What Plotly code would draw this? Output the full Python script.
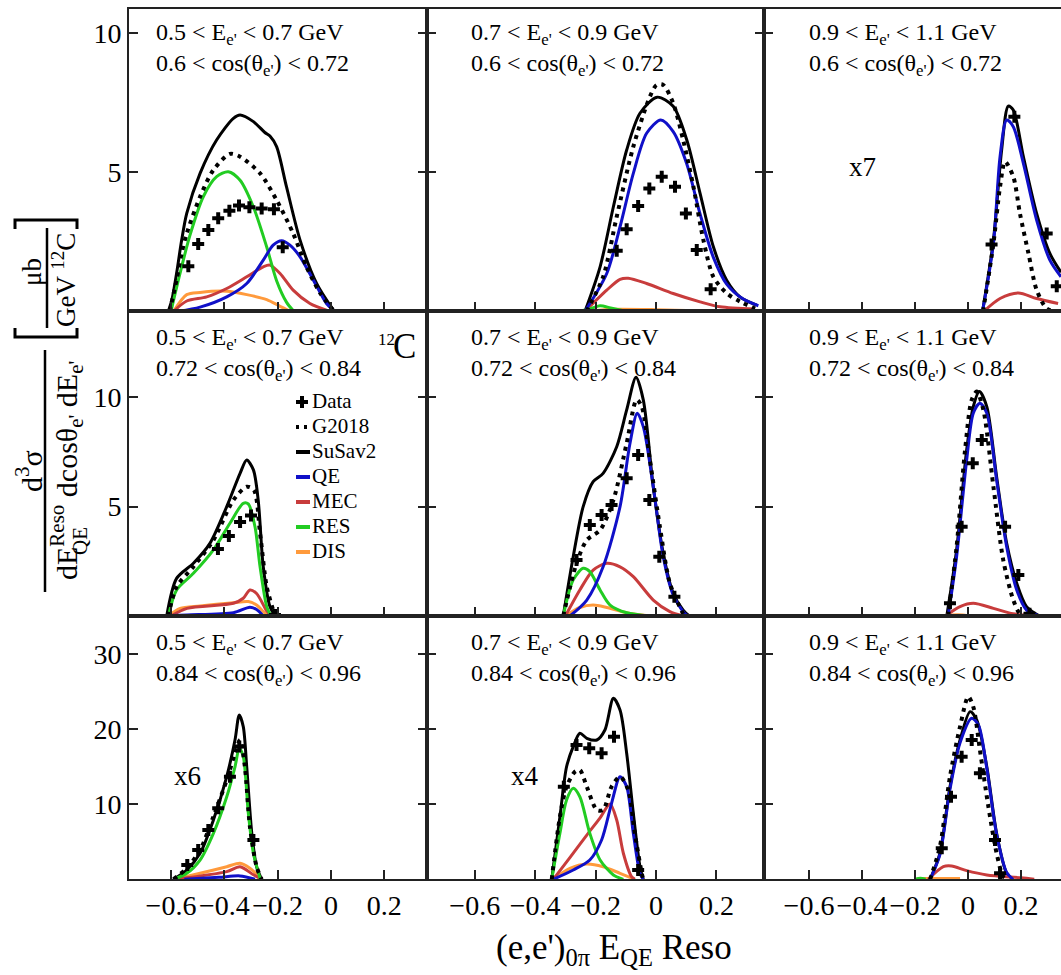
import plotly.graph_objects as go

W, H = 1061, 975

# ---------------------------------------------------------------------------
# Cross sections per panel, (E_QE reso, value) pairs.
# Panels: r = cos(theta) bin (row), c = E_e' bin (column).
# ---------------------------------------------------------------------------
r1c1_data = [(-0.535, 1.62), (-0.498, 2.42), (-0.46, 2.92), (-0.423, 3.35), (-0.381, 3.62),
             (-0.345, 3.80), (-0.306, 3.74), (-0.26, 3.70), (-0.214, 3.67), (-0.181, 2.30)]
r1c1_g2018 = [(-0.605, 0.0), (-0.579, 1.13), (-0.56, 2.09), (-0.541, 2.8), (-0.491, 4.12), (-0.441, 5.08),
              (-0.379, 5.66), (-0.341, 5.56), (-0.266, 4.96), (-0.204, 4.0), (-0.142, 2.8),
              (-0.092, 1.6), (-0.041, 0.66), (0.008, 0.05)]
r1c1_susav2 = [(-0.61, 0.0), (-0.597, 0.4), (-0.579, 1.37), (-0.56, 2.56), (-0.541, 3.52), (-0.491, 4.96),
               (-0.429, 6.16), (-0.366, 6.94), (-0.341, 7.06), (-0.291, 6.82), (-0.248, 6.43),
               (-0.229, 6.3), (-0.204, 5.92), (-0.167, 4.48), (-0.116, 2.56), (-0.054, 1.0), (0.008, 0.05)]
r1c1_qe = [(-0.57, 0.0), (-0.491, 0.15), (-0.391, 0.52), (-0.316, 1.0), (-0.254, 1.84), (-0.217, 2.38),
           (-0.185, 2.54), (-0.154, 2.38), (-0.116, 1.96), (-0.066, 1.12), (-0.017, 0.28), (0.008, 0.05)]
r1c1_mec = [(-0.59, 0.0), (-0.541, 0.37), (-0.466, 0.52), (-0.391, 0.82), (-0.316, 1.24), (-0.254, 1.6),
            (-0.229, 1.66), (-0.191, 1.36), (-0.142, 0.76), (-0.079, 0.28), (-0.017, 0.04)]
r1c1_res = [(-0.6, 0.0), (-0.566, 1.37), (-0.529, 2.73), (-0.479, 4.12), (-0.429, 4.84), (-0.385, 5.02),
            (-0.341, 4.71), (-0.291, 3.75), (-0.241, 2.31), (-0.204, 1.1), (-0.167, 0.33), (-0.142, 0.03)]
r1c1_dis = [(-0.59, 0.0), (-0.541, 0.6), (-0.491, 0.68), (-0.391, 0.72), (-0.316, 0.6), (-0.241, 0.42),
            (-0.191, 0.18), (-0.154, 0.01)]

r1c2_data = [(-0.13, 2.18), (-0.097, 2.95), (-0.059, 3.79), (-0.022, 4.42), (0.019, 4.84),
             (0.063, 4.48), (0.099, 3.52), (0.135, 2.2), (0.181, 0.79)]
r1c2_g2018 = [(-0.23, 0.0), (-0.175, 1.24), (-0.13, 3.4), (-0.075, 5.92), (-0.02, 7.72), (0.002, 8.14),
              (0.024, 8.14), (0.057, 7.48), (0.09, 6.16), (0.124, 4.48), (0.157, 2.56), (0.19, 1.24),
              (0.234, 0.65), (0.278, 0.35), (0.328, 0.1)]
r1c2_susav2 = [(-0.235, 0.0), (-0.185, 1.6), (-0.141, 3.76), (-0.097, 5.8), (-0.053, 7.12), (0.004, 7.7),
               (0.057, 7.37), (0.102, 6.16), (0.146, 4.24), (0.19, 2.32), (0.234, 1.12), (0.278, 0.52),
               (0.333, 0.22)]
r1c2_qe = [(-0.235, 0.0), (-0.163, 1.36), (-0.119, 3.04), (-0.075, 4.96), (-0.031, 6.4), (0.016, 6.88),
           (0.057, 6.46), (0.102, 5.3), (0.146, 3.5), (0.19, 1.94), (0.234, 0.98), (0.289, 0.44), (0.339, 0.2)]
r1c2_mec = [(-0.235, 0.0), (-0.163, 0.76), (-0.119, 1.15), (-0.092, 1.19), (-0.031, 1.0), (0.057, 0.64),
            (0.146, 0.34), (0.212, 0.16), (0.328, 0.08)]
r1c2_res = [(-0.25, 0.0), (-0.21, 0.12), (-0.185, 0.2), (-0.15, 0.12), (-0.1, 0.0)]
r1c2_dis = [(-0.22, 0.0), (-0.15, 0.07), (0.0, 0.06), (0.1, 0.03), (0.13, 0.0)]

r1c3_data = [(0.089, 2.4), (0.175, 7.0), (0.297, 2.8), (0.335, 0.9)]
r1c3_g2018 = [(0.057, 0.0), (0.096, 2.44), (0.121, 4.48), (0.14, 5.38), (0.171, 4.84), (0.196, 3.52),
              (0.228, 2.09), (0.259, 0.77), (0.297, 0.1), (0.33, 0.0)]
r1c3_susav2 = [(0.055, 0.0), (0.096, 2.56), (0.127, 5.8), (0.152, 7.38), (0.171, 7.24), (0.209, 5.56),
               (0.259, 3.52), (0.309, 2.08), (0.351, 1.4)]
r1c3_qe = [(0.055, 0.0), (0.096, 2.44), (0.121, 5.56), (0.146, 6.88), (0.171, 6.64), (0.209, 5.32),
           (0.259, 3.28), (0.309, 1.84), (0.351, 1.24)]
r1c3_mec = [(0.06, 0.0), (0.121, 0.46), (0.19, 0.66), (0.259, 0.46), (0.34, 0.28)]
r1c3_res = []
r1c3_dis = []

r2c1_data = [(-0.424, 3.06), (-0.383, 3.66), (-0.341, 4.3), (-0.3, 4.6), (-0.21, 0.05)]
r2c1_g2018 = [(-0.61, 0.0), (-0.579, 1.34), (-0.516, 2.25), (-0.441, 3.47), (-0.366, 5.3), (-0.316, 5.91),
              (-0.289, 5.76), (-0.266, 3.78), (-0.241, 1.34), (-0.21, 0.0)]
r2c1_susav2 = [(-0.616, 0.0), (-0.579, 1.72), (-0.516, 2.41), (-0.454, 3.32), (-0.391, 5.0), (-0.341, 6.52),
               (-0.316, 7.13), (-0.291, 6.68), (-0.273, 5.3), (-0.254, 2.25), (-0.229, 0.43), (-0.21, 0.0)]
r2c1_qe = [(-0.65, 0.0), (-0.54, 0.05), (-0.366, 0.15), (-0.304, 0.4), (-0.279, 0.3), (-0.254, 0.0)]
r2c1_mec = [(-0.6, 0.0), (-0.54, 0.35), (-0.366, 0.58), (-0.329, 0.81), (-0.304, 1.19), (-0.279, 1.03),
            (-0.241, 0.23), (-0.225, 0.0)]
r2c1_res = [(-0.61, 0.0), (-0.579, 1.19), (-0.516, 1.95), (-0.441, 3.02), (-0.379, 4.24), (-0.329, 5.15),
            (-0.31, 5.12), (-0.285, 4.08), (-0.266, 2.25), (-0.241, 0.43), (-0.225, 0.0)]
r2c1_dis = [(-0.61, 0.0), (-0.566, 0.35), (-0.491, 0.46), (-0.366, 0.61), (-0.31, 0.66), (-0.279, 0.5),
            (-0.254, 0.2), (-0.235, 0.0)]

r2c2_data = [(-0.263, 2.56), (-0.219, 4.16), (-0.18, 4.62), (-0.147, 5.07), (-0.097, 6.3),
             (-0.059, 7.36), (-0.022, 5.3), (0.011, 2.71), (0.061, 0.88)]
r2c2_g2018 = [(-0.307, 0.0), (-0.263, 2.41), (-0.229, 3.47), (-0.185, 3.93), (-0.141, 5.3), (-0.097, 7.9),
              (-0.064, 9.88), (-0.047, 9.57), (-0.02, 7.13), (0.013, 4.08), (0.046, 1.5), (0.09, 0.1)]
r2c2_susav2 = [(-0.307, 0.0), (-0.274, 2.71), (-0.241, 5.0), (-0.208, 6.14), (-0.175, 6.52), (-0.13, 7.74),
               (-0.097, 9.42), (-0.066, 10.91), (-0.042, 9.88), (-0.009, 5.91), (0.024, 2.87),
               (0.057, 1.04), (0.09, 0.27), (0.11, 0.0)]
r2c2_qe = [(-0.285, 0.0), (-0.229, 0.73), (-0.175, 2.25), (-0.119, 5.0), (-0.086, 7.9), (-0.062, 9.27),
           (-0.042, 8.66), (-0.009, 5.91), (0.024, 2.71), (0.057, 0.96), (0.096, 0.1), (0.11, 0.0)]
r2c2_mec = [(-0.3, 0.0), (-0.252, 1.19), (-0.208, 2.1), (-0.163, 2.41), (-0.119, 2.25), (-0.075, 1.8),
            (-0.009, 0.73), (0.046, 0.2), (0.09, 0.0)]
r2c2_res = [(-0.307, 0.0), (-0.274, 1.65), (-0.241, 2.18), (-0.219, 2.03), (-0.185, 1.19), (-0.152, 0.5),
            (-0.097, 0.15), (-0.02, 0.0)]
r2c2_dis = [(-0.3, 0.0), (-0.252, 0.39), (-0.208, 0.5), (-0.163, 0.39), (-0.097, 0.15), (-0.02, 0.0)]

r2c3_data = [(-0.068, 0.58), (-0.024, 4.08), (0.018, 6.98), (0.052, 8.05), (0.14, 4.08), (0.19, 1.87),
             (0.232, 0.1)]
r2c3_g2018 = [(-0.075, 0.0), (-0.043, 3.17), (-0.011, 7.59), (0.014, 9.88), (0.033, 10.26), (0.058, 9.42),
              (0.096, 5.91), (0.133, 2.56), (0.171, 0.73), (0.196, 0.1), (0.22, 0.0)]
r2c3_susav2 = [(-0.08, 0.0), (-0.043, 3.02), (-0.005, 7.59), (0.02, 9.57), (0.043, 10.26), (0.071, 9.57),
               (0.108, 6.37), (0.146, 3.32), (0.184, 1.5), (0.221, 0.43), (0.27, 0.0)]
r2c3_qe = [(-0.075, 0.0), (-0.043, 2.71), (-0.005, 7.13), (0.02, 9.27), (0.045, 9.73), (0.071, 9.27),
           (0.108, 6.22), (0.146, 3.17), (0.184, 1.19), (0.221, 0.27), (0.27, 0.0)]
r2c3_mec = [(-0.085, 0.0), (-0.03, 0.43), (0.02, 0.58), (0.096, 0.35), (0.17, 0.1), (0.25, 0.0)]
r2c3_res = []
r2c3_dis = [(-0.095, 0.0), (-0.06, 0.05), (-0.02, 0.05), (0.0, 0.0)]

r3c1_data = [(-0.539, 1.91), (-0.498, 3.91), (-0.46, 6.57), (-0.423, 9.46), (-0.379, 13.68),
             (-0.344, 17.7), (-0.291, 5.24)]
r3c1_g2018 = [(-0.591, 0.0), (-0.541, 1.46), (-0.491, 3.9), (-0.441, 8.35), (-0.391, 13.24), (-0.36, 16.8),
              (-0.341, 18.57), (-0.323, 15.0), (-0.304, 7.01), (-0.279, 1.68), (-0.26, 0.0)]
r3c1_susav2 = [(-0.591, 0.0), (-0.541, 1.24), (-0.491, 3.47), (-0.441, 7.9), (-0.391, 13.7), (-0.36, 18.57),
               (-0.344, 21.9), (-0.329, 20.35), (-0.316, 15.0), (-0.297, 6.13), (-0.279, 1.68), (-0.26, 0.0)]
r3c1_qe = [(-0.55, 0.0), (-0.42, 0.27), (-0.341, 0.45), (-0.285, 0.0)]
r3c1_mec = [(-0.585, 0.0), (-0.391, 1.02), (-0.341, 1.68), (-0.291, 0.6), (-0.26, 0.0)]
r3c1_res = [(-0.59, 0.0), (-0.541, 0.8), (-0.491, 2.57), (-0.441, 6.13), (-0.391, 11.0), (-0.36, 15.0),
            (-0.344, 17.47), (-0.329, 16.35), (-0.31, 8.8), (-0.291, 3.47), (-0.265, 0.0)]
r3c1_dis = [(-0.585, 0.0), (-0.491, 0.8), (-0.391, 1.68), (-0.341, 2.13), (-0.304, 1.46), (-0.26, 0.0)]

r3c2_data = [(-0.305, 12.35), (-0.263, 17.9), (-0.221, 17.47), (-0.18, 16.8), (-0.139, 19.0),
             (-0.059, 1.24)]
r3c2_g2018 = [(-0.345, 0.0), (-0.318, 8.35), (-0.296, 12.35), (-0.268, 14.35), (-0.252, 14.57),
              (-0.229, 12.35), (-0.196, 9.24), (-0.175, 9.24), (-0.147, 12.35), (-0.119, 13.68),
              (-0.092, 11.9), (-0.07, 6.13), (-0.047, 0.8), (-0.042, 0.0)]
r3c2_susav2 = [(-0.345, 0.0), (-0.318, 8.35), (-0.296, 15.0), (-0.274, 17.68), (-0.252, 19.47),
               (-0.229, 18.8), (-0.196, 18.57), (-0.169, 19.9), (-0.141, 24.13), (-0.119, 22.57),
               (-0.097, 16.8), (-0.075, 8.8), (-0.053, 1.68), (-0.042, 0.0)]
r3c2_qe = [(-0.34, 0.0), (-0.274, 1.24), (-0.219, 2.57), (-0.18, 5.24), (-0.147, 10.13), (-0.119, 13.68),
           (-0.097, 12.35), (-0.075, 6.13), (-0.053, 0.8), (-0.042, 0.0)]
r3c2_mec = [(-0.34, 0.0), (-0.285, 2.9), (-0.229, 5.9), (-0.185, 8.2), (-0.152, 10.04), (-0.13, 7.9),
            (-0.108, 3.47), (-0.081, 0.36), (-0.07, 0.0)]
r3c2_res = [(-0.345, 0.0), (-0.318, 6.13), (-0.296, 10.57), (-0.274, 12.13), (-0.252, 11.0),
            (-0.219, 6.13), (-0.185, 2.57), (-0.141, 0.58), (-0.108, 0.0)]
r3c2_dis = [(-0.34, 0.0), (-0.285, 1.46), (-0.229, 2.04), (-0.175, 1.68), (-0.119, 0.8), (-0.07, 0.0)]

r3c3_data = [(-0.099, 4.13), (-0.064, 11.0), (-0.024, 16.35), (0.014, 18.57), (0.045, 14.13),
             (0.102, 5.24), (0.121, 0.8)]
r3c3_g2018 = [(-0.143, 0.0), (-0.106, 4.35), (-0.068, 13.68), (-0.03, 20.35), (0.001, 24.35), (0.02, 23.0),
              (0.045, 17.24), (0.077, 9.68), (0.108, 3.47), (0.133, 0.36), (0.15, 0.0)]
r3c3_susav2 = [(-0.143, 0.0), (-0.106, 3.47), (-0.068, 12.35), (-0.03, 18.57), (0.008, 22.35),
               (0.033, 21.24), (0.071, 15.01), (0.108, 6.13), (0.146, 0.8), (0.17, 0.0)]
r3c3_qe = [(-0.143, 0.0), (-0.106, 3.3), (-0.068, 12.0), (-0.03, 18.2), (0.014, 21.47), (0.04, 20.5),
           (0.071, 14.8), (0.108, 6.0), (0.146, 0.9), (0.17, 0.0)]
r3c3_mec = [(-0.15, 0.0), (-0.093, 1.68), (-0.062, 1.77), (-0.005, 1.15), (0.071, 0.58), (0.2, 0.2),
            (0.25, 0.0)]
r3c3_res = [(-0.2, 0.0), (-0.18, 0.15), (-0.16, 0.0)]
r3c3_dis = [(-0.19, 0.1), (-0.03, 0.1)]

# bin labels
ebins = ["0.5 < E<sub>e'</sub> < 0.7 GeV", "0.7 < E<sub>e'</sub> < 0.9 GeV",
         "0.9 < E<sub>e'</sub> < 1.1 GeV"]
cbins = ["0.6 < cos(θ<sub>e'</sub>) < 0.72", "0.72 < cos(θ<sub>e'</sub>) < 0.84",
         "0.84 < cos(θ<sub>e'</sub>) < 0.96"]
scale_labels = {(1, 3): "x7", (3, 1): "x6", (3, 2): "x4"}

x_ticks = [-0.6, -0.4, -0.2, 0, 0.2]
y_ticks = {1: [5, 10], 2: [5, 10], 3: [10, 20, 30]}

series_names = ["Data", "G2018", "SuSav2", "QE", "MEC", "RES", "DIS"]

# ---------------------------------------------------------------------------
FONT = "Liberation Serif"
COL = {"QE": "#1010c8", "MEC": "#c83c3c", "RES": "#22cc22", "DIS": "#ff9a3c", "SuSav2": "black",
       "G2018": "black", "Data": "black"}

panels = {
    (1, 1): dict(Data=r1c1_data, G2018=r1c1_g2018, SuSav2=r1c1_susav2, QE=r1c1_qe, MEC=r1c1_mec, RES=r1c1_res, DIS=r1c1_dis),
    (1, 2): dict(Data=r1c2_data, G2018=r1c2_g2018, SuSav2=r1c2_susav2, QE=r1c2_qe, MEC=r1c2_mec, RES=r1c2_res, DIS=r1c2_dis),
    (1, 3): dict(Data=r1c3_data, G2018=r1c3_g2018, SuSav2=r1c3_susav2, QE=r1c3_qe, MEC=r1c3_mec, RES=r1c3_res, DIS=r1c3_dis),
    (2, 1): dict(Data=r2c1_data, G2018=r2c1_g2018, SuSav2=r2c1_susav2, QE=r2c1_qe, MEC=r2c1_mec, RES=r2c1_res, DIS=r2c1_dis),
    (2, 2): dict(Data=r2c2_data, G2018=r2c2_g2018, SuSav2=r2c2_susav2, QE=r2c2_qe, MEC=r2c2_mec, RES=r2c2_res, DIS=r2c2_dis),
    (2, 3): dict(Data=r2c3_data, G2018=r2c3_g2018, SuSav2=r2c3_susav2, QE=r2c3_qe, MEC=r2c3_mec, RES=r2c3_res, DIS=r2c3_dis),
    (3, 1): dict(Data=r3c1_data, G2018=r3c1_g2018, SuSav2=r3c1_susav2, QE=r3c1_qe, MEC=r3c1_mec, RES=r3c1_res, DIS=r3c1_dis),
    (3, 2): dict(Data=r3c2_data, G2018=r3c2_g2018, SuSav2=r3c2_susav2, QE=r3c2_qe, MEC=r3c2_mec, RES=r3c2_res, DIS=r3c2_dis),
    (3, 3): dict(Data=r3c3_data, G2018=r3c3_g2018, SuSav2=r3c3_susav2, QE=r3c3_qe, MEC=r3c3_mec, RES=r3c3_res, DIS=r3c3_dis),
}

# panel frame in pixels
col_px = {1: (129, 427), 2: (427, 764), 3: (764, 1061)}
row_px = {1: (9, 311.3), 2: (311.3, 616), 3: (616, 879.3)}
x_range = {1: [-0.7575, 0.36], 2: [-0.758, 0.3576], 3: [-0.7698, 0.351]}
y_range = {1: [0, 10.87], 2: [0, 13.93], 3: [0, 35.1]}


def px(x):
    return x / W


def py(y):
    return 1 - y / H


fig = go.Figure()
layout = {}
annotations = []
shapes = []

draw_order = ["SuSav2", "DIS", "MEC", "RES", "QE", "G2018", "Data"]

for (r, c), series in panels.items():
    k = (r - 1) * 3 + c
    xa, ya = f"x{k}" if k > 1 else "x", f"y{k}" if k > 1 else "y"
    for name in draw_order:
        pts = series[name]
        if not pts:
            continue
        xs = [p[0] for p in pts]
        ys = [p[1] for p in pts]
        if name == "Data":
            fig.add_trace(go.Scatter(x=xs, y=ys, mode="markers", xaxis=xa, yaxis=ya,
                                     marker=dict(symbol="cross", size=10, color="black",
                                                 line=dict(width=0)),
                                     showlegend=False, cliponaxis=True))
        else:
            dash = "4px,5px" if name == "G2018" else "solid"
            width = 4 if name == "G2018" else 3
            fig.add_trace(go.Scatter(x=xs, y=ys, mode="lines", xaxis=xa, yaxis=ya,
                                     line=dict(color=COL[name], width=width, dash=dash,
                                               shape="spline", smoothing=0.8),
                                     showlegend=False))

    x0, x1 = col_px[c]
    y0, y1 = row_px[r]
    axis_font = dict(family=FONT, size=28, color="black")
    layout["xaxis" + (str(k) if k > 1 else "")] = dict(
        domain=[px(x0), px(x1)], anchor=ya, range=x_range[c],
        showline=True, linewidth=2, linecolor="#222", mirror=True,
        ticks="inside", ticklen=9, tickwidth=1.5, tickcolor="#222",
        tickvals=x_ticks, showticklabels=(r == 3), tickangle=0, tickfont=axis_font,
        showgrid=False, zeroline=False, fixedrange=True)
    layout["yaxis" + (str(k) if k > 1 else "")] = dict(
        domain=[py(y1), py(y0)], anchor=xa, range=y_range[r],
        showline=True, linewidth=2, linecolor="#222", mirror=("ticks" if c < 3 else False),
        ticks="inside", ticklen=9, tickwidth=1.5, tickcolor="#222",
        tickvals=y_ticks[r], showticklabels=(c == 1), tickfont=axis_font,
        showgrid=False, zeroline=False, fixedrange=True)

    # bin labels (two lines in one text block)
    text_x = {1: 154, 2: 469, 3: 807}[c]
    mid = {1: 49, 2: 354, 3: 659}[r]
    annotations.append(dict(text=ebins[c - 1] + "<br>" + cbins[r - 1], x=px(text_x), y=py(mid),
                            xref="paper", yref="paper", xanchor="left", yanchor="middle",
                            align="left", showarrow=False,
                            font=dict(family=FONT, size=24, color="black")))

# scale factors
for (r, c), lab in scale_labels.items():
    pos = {(1, 3): (862, 167), (3, 1): (187, 776), (3, 2): (525, 776)}[(r, c)]
    annotations.append(dict(text=lab, x=px(pos[0]), y=py(pos[1]), xref="paper", yref="paper",
                            xanchor="center", yanchor="middle", showarrow=False,
                            font=dict(family=FONT, size=27, color="black")))

# nucleus tag
annotations.append(dict(text="12", x=px(386), y=py(339), xref="paper", yref="paper",
                        xanchor="center", yanchor="middle", showarrow=False,
                        font=dict(family=FONT, size=17, color="black")))
annotations.append(dict(text="C", x=px(404), y=py(347), xref="paper", yref="paper",
                        xanchor="center", yanchor="middle", showarrow=False,
                        font=dict(family=FONT, size=35, color="black")))

# legend
leg_y = [401, 426, 451, 476, 501, 526, 551]
for name, yy in zip(series_names, leg_y):
    annotations.append(dict(text=name, x=px(311), y=py(yy), xref="paper", yref="paper",
                            xanchor="left", yanchor="middle", showarrow=False, borderpad=0,
                            font=dict(family=FONT, size=21, color="black")))
    if name == "Data":
        shapes.append(dict(type="line", xref="paper", yref="paper", x0=px(296), x1=px(308),
                           y0=py(yy + 1), y1=py(yy + 1), line=dict(color="black", width=4)))
        shapes.append(dict(type="line", xref="paper", yref="paper", x0=px(302), x1=px(302),
                           y0=py(yy - 5), y1=py(yy + 7), line=dict(color="black", width=4)))
    else:
        shapes.append(dict(type="line", xref="paper", yref="paper", x0=px(296), x1=px(310),
                           y0=py(yy + 1), y1=py(yy + 1),
                           line=dict(color=COL[name], width=4,
                                     dash=("3px,5px" if name == "G2018" else "solid"))))

# x axis title
annotations.append(dict(text="(e,e')<sub>0π</sub> E<sub>QE</sub> Reso", x=px(614), y=py(949),
                        xref="paper", yref="paper", xanchor="center", yanchor="middle",
                        showarrow=False, font=dict(family=FONT, size=35, color="black")))

# y axis title: d3sigma / (dE dcos dE) [ub / GeV 12C]
ytitle_font = dict(family=FONT, size=30, color="black")
annotations.append(dict(text="d<sup>3</sup>σ", x=px(29), y=py(471), xref="paper", yref="paper",
                        xanchor="center", yanchor="middle", textangle=-90, showarrow=False,
                        font=ytitle_font))
annotations.append(dict(text="dE<sup>Reso</sup> dcosθ<sub>e'</sub> dE<sub>e'</sub>", x=px(66), y=py(471),
                        xref="paper", yref="paper", xanchor="center", yanchor="middle",
                        textangle=-90, showarrow=False, font=ytitle_font))
annotations.append(dict(text="QE", x=px(80), y=py(541), xref="paper", yref="paper",
                        xanchor="center", yanchor="middle", textangle=-90, showarrow=False,
                        font=dict(family=FONT, size=21, color="black")))
shapes.append(dict(type="line", xref="paper", yref="paper", x0=px(45), x1=px(45),
                   y0=py(350), y1=py(592), line=dict(color="black", width=2.5)))

annotations.append(dict(text="μb", x=px(32), y=py(272), xref="paper", yref="paper",
                        xanchor="center", yanchor="middle", textangle=-90, showarrow=False,
                        font=dict(family=FONT, size=27, color="black")))
annotations.append(dict(text="GeV <sup>12</sup>C", x=px(64), y=py(280), xref="paper", yref="paper",
                        xanchor="center", yanchor="middle", textangle=-90, showarrow=False,
                        font=dict(family=FONT, size=27, color="black")))
shapes.append(dict(type="line", xref="paper", yref="paper", x0=px(47), x1=px(47),
                   y0=py(228), y1=py(328), line=dict(color="black", width=2.5)))


def bracket(y_stem, y_arm):
    return (f"M {px(15)},{py(y_arm)} L {px(15)},{py(y_stem)} "
            f"L {px(77)},{py(y_stem)} L {px(77)},{py(y_arm)}")


shapes.append(dict(type="path", xref="paper", yref="paper", path=bracket(337, 328),
                   line=dict(color="black", width=3)))
shapes.append(dict(type="path", xref="paper", yref="paper", path=bracket(220, 229),
                   line=dict(color="black", width=3)))

fig.update_layout(**layout)
fig.update_layout(width=W, height=H, margin=dict(l=0, r=0, t=0, b=0),
                  paper_bgcolor="white", plot_bgcolor="white", showlegend=False,
                  font=dict(family=FONT, color="black"),
                  annotations=annotations, shapes=shapes)

fig.write_html("out.html")
